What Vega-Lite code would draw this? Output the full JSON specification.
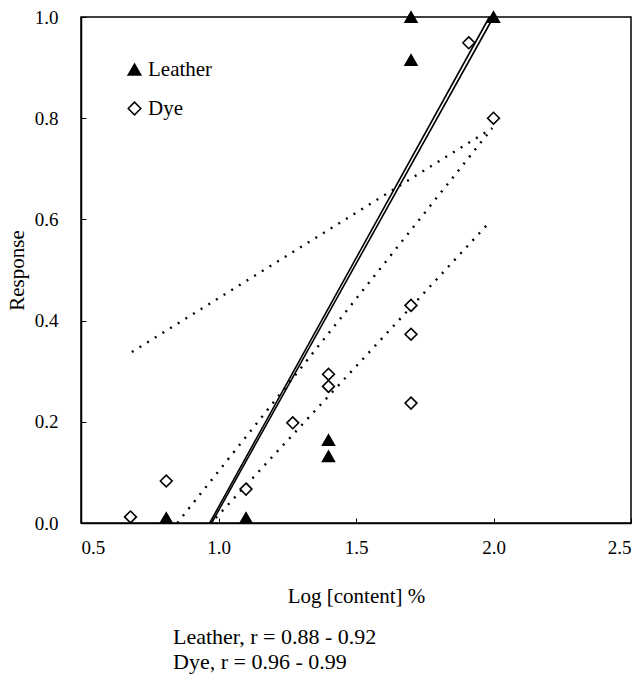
{
  "$schema": "https://vega.github.io/schema/vega-lite/v6.json",
  "width": 550,
  "height": 506,
  "padding": {"left": 6, "top": 8, "right": 5, "bottom": 5},
  "background": "white",
  "config": {
    "font": "Liberation Serif",
    "view": {"stroke": "black", "strokeWidth": 1.5},
    "axis": {
      "grid": false,
      "domainColor": "black",
      "domainWidth": 1.5,
      "tickColor": "black",
      "labelFont": "Liberation Serif",
      "labelFontSize": 19,
      "labelColor": "black",
      "titleFont": "Liberation Serif",
      "titleFontSize": 21,
      "titleFontWeight": "normal",
      "titleColor": "black"
    }
  },
  "title": {
    "text": ["Leather, r = 0.88 - 0.92", "Dye, r = 0.96 - 0.99"],
    "orient": "bottom",
    "anchor": "start",
    "frame": "group",
    "dx": 92,
    "offset": 21,
    "font": "Liberation Serif",
    "fontSize": 22,
    "fontWeight": "normal",
    "lineHeight": 25,
    "color": "black"
  },
  "datasets": {
    "pts": [
      {"series": "Leather", "x": 0.81, "y": 0.01},
      {"series": "Leather", "x": 1.10, "y": 0.01},
      {"series": "Leather", "x": 1.40, "y": 0.164},
      {"series": "Leather", "x": 1.40, "y": 0.132},
      {"series": "Leather", "x": 1.70, "y": 1.0},
      {"series": "Leather", "x": 1.70, "y": 0.915},
      {"series": "Leather", "x": 2.00, "y": 1.0},
      {"series": "Dye", "x": 0.68, "y": 0.012},
      {"series": "Dye", "x": 0.81, "y": 0.083},
      {"series": "Dye", "x": 1.10, "y": 0.067},
      {"series": "Dye", "x": 1.27, "y": 0.198},
      {"series": "Dye", "x": 1.40, "y": 0.294},
      {"series": "Dye", "x": 1.40, "y": 0.27},
      {"series": "Dye", "x": 1.70, "y": 0.43},
      {"series": "Dye", "x": 1.70, "y": 0.373},
      {"series": "Dye", "x": 1.70, "y": 0.237},
      {"series": "Dye", "x": 1.91, "y": 0.949},
      {"series": "Dye", "x": 2.00, "y": 0.80}
    ],
    "fits": [
      {"fit": "L1", "kind": "solid", "x": 0.968, "y": 0.0},
      {"fit": "L1", "kind": "solid", "x": 1.985, "y": 1.0},
      {"fit": "L2", "kind": "solid", "x": 0.975, "y": 0.0},
      {"fit": "L2", "kind": "solid", "x": 2.0, "y": 1.0},
      {"fit": "D1", "kind": "dotted", "x": 0.685, "y": 0.338},
      {"fit": "D1", "kind": "dotted", "x": 1.995, "y": 0.78},
      {"fit": "D2", "kind": "dotted", "x": 0.85, "y": 0.0},
      {"fit": "D2", "kind": "dotted", "x": 1.995, "y": 0.78},
      {"fit": "D3", "kind": "dotted", "x": 0.99, "y": 0.01},
      {"fit": "D3", "kind": "dotted", "x": 1.99, "y": 0.597}
    ]
  },
  "encoding": {
    "x": {
      "field": "x",
      "type": "quantitative",
      "scale": {"domain": [0.5, 2.5], "nice": false, "zero": false},
      "axis": {
        "title": "Log [content] %",
        "values": [0.5, 1.0, 1.5, 2.0, 2.5],
        "format": ".1f",
        "tickSize": -5,
        "labelPadding": 20,
        "titlePadding": 28
      }
    },
    "y": {
      "field": "y",
      "type": "quantitative",
      "scale": {"domain": [0, 1], "nice": false},
      "axis": {
        "title": "Response",
        "values": [0, 0.2, 0.4, 0.6, 0.8, 1.0],
        "format": ".1f",
        "tickSize": -5,
        "labelPadding": 28,
        "titlePadding": 7
      }
    }
  },
  "layer": [
    {
      "data": {"name": "fits"},
      "transform": [{"filter": "datum.kind == 'solid'"}],
      "mark": {"type": "line", "color": "black", "strokeWidth": 1.6},
      "encoding": {"detail": {"field": "fit"}}
    },
    {
      "data": {"name": "fits"},
      "transform": [{"filter": "datum.kind == 'dotted'"}],
      "mark": {"type": "line", "color": "black", "strokeWidth": 2.4, "strokeDash": [2, 7]},
      "encoding": {"detail": {"field": "fit"}}
    },
    {
      "data": {"name": "pts"},
      "mark": {"type": "point", "stroke": "black", "strokeWidth": 1.6, "size": 140, "opacity": 1},
      "encoding": {
        "shape": {
          "field": "series",
          "type": "nominal",
          "scale": {"domain": ["Leather", "Dye"], "range": ["triangle-up", "diamond"]},
          "legend": {
            "title": null,
            "orient": "none",
            "legendX": 43,
            "legendY": 42,
            "labelFont": "Liberation Serif",
            "labelFontSize": 21,
            "labelColor": "black",
            "symbolSize": 160,
            "rowPadding": 17,
            "labelOffset": 3,
            "encode": {"symbols": {"update": {"stroke": {"value": "black"}, "strokeWidth": {"value": 1.6}}}}
          }
        },
        "fill": {
          "field": "series",
          "type": "nominal",
          "scale": {"domain": ["Leather", "Dye"], "range": ["black", "white"]},
          "legend": {
            "title": null,
            "orient": "none",
            "legendX": 43,
            "legendY": 42,
            "labelFont": "Liberation Serif",
            "labelFontSize": 21,
            "labelColor": "black",
            "symbolSize": 160,
            "rowPadding": 17,
            "labelOffset": 3,
            "encode": {"symbols": {"update": {"stroke": {"value": "black"}, "strokeWidth": {"value": 1.6}}}}
          }
        }
      }
    }
  ]
}
